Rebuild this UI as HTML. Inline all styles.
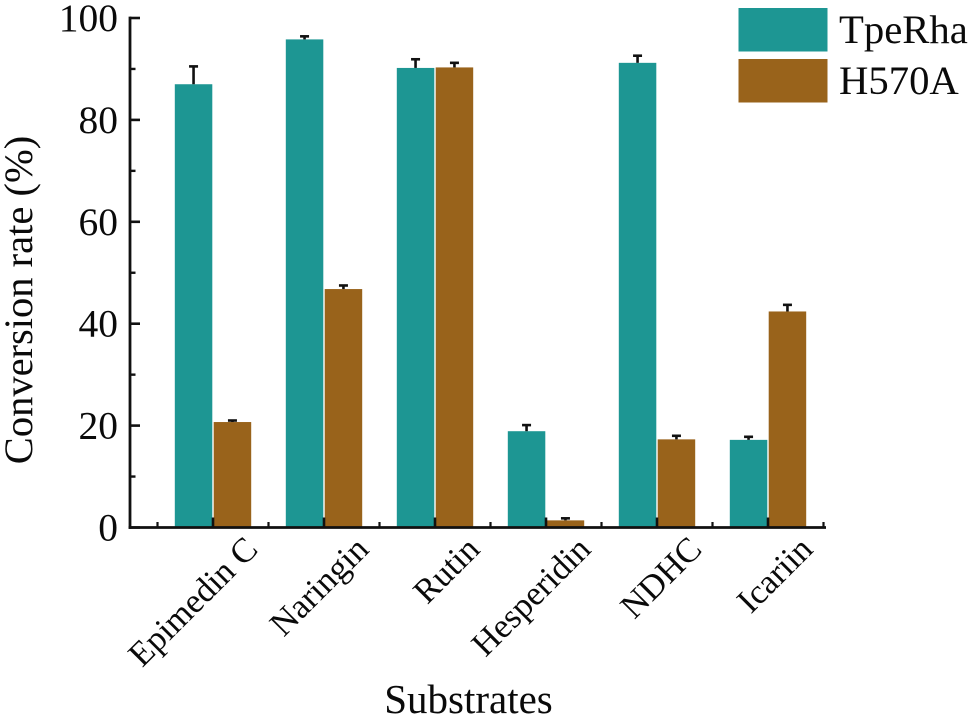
<!DOCTYPE html>
<html>
<head>
<meta charset="utf-8">
<title>Conversion rate by substrate</title>
<style>
html,body{margin:0;padding:0;background:#fff;}
svg{display:block;}
text{font-family:"Liberation Serif",serif;fill:#0a0a0a;}
</style>
</head>
<body>
<svg id="chart" width="972" height="718" viewBox="0 0 972 718" xmlns="http://www.w3.org/2000/svg"></svg>
<script>
const categories = ["Epimedin C", "Naringin", "Rutin", "Hesperidin", "NDHC", "Icariin"];
const tpeRhaValues = [87.0, 95.8, 90.2, 18.9, 91.2, 17.2];
const h570aValues = [20.7, 46.8, 90.3, 1.4, 17.3, 42.4];
const tpeRhaErrors = [3.5, 0.6, 1.7, 1.2, 1.4, 0.6];
const h570aErrors = [0.3, 0.7, 0.9, 0.4, 0.7, 1.3];
const yTickLabels = [0, 20, 40, 60, 80, 100];
const yMinorTicks = [10, 30, 50, 70, 90];

const svg = document.getElementById('chart');
const NS = 'http://www.w3.org/2000/svg';
const plotLeft = 130, plotRight = 825, y0 = 527.5, y100 = 18;
const firstCenter = 213, bandWidth = 111, barWidth = 37.5;
const teal = '#1d9693', brown = '#99631b';

function yScale(v){ return y0 - (v / 100) * (y0 - y100); }
function xCenter(i){ return firstCenter + bandWidth * i; }

function make(tag, attrs){
  const el = document.createElementNS(NS, tag);
  for (const k in attrs) el.setAttribute(k, attrs[k]);
  svg.appendChild(el);
  return el;
}

function drawBar(x, value, err, color, barName, errName){
  const top = yScale(value);
  const rect = make('rect', {x: x, y: top, width: barWidth, height: y0 - top, fill: color});
  
  
  const cx = x + barWidth / 2;
  const errTop = yScale(value + err);
  const stem = make('line', {x1: cx, x2: cx, y1: top, y2: errTop, stroke: '#111', 'stroke-width': 2.6});
  
  
  const cap = make('line', {x1: cx - 4.5, x2: cx + 4.5, y1: errTop, y2: errTop, stroke: '#111', 'stroke-width': 2.6});
  
  
}

categories.forEach(function(name, i){
  const slug = name.toLowerCase().replace(/\s+/g, '-');
  const c = xCenter(i);
  drawBar(c - barWidth - 0.7, tpeRhaValues[i], tpeRhaErrors[i], teal, 'bar-tperha-' + slug, 'error-tperha-' + slug);
  drawBar(c + 0.7, h570aValues[i], h570aErrors[i], brown, 'bar-h570a-' + slug, 'error-h570a-' + slug);
});

/* y axis */
const yAxis = make('line', {x1: plotLeft, x2: plotLeft, y1: y100 - 1.4, y2: y0 + 1.4, stroke: '#111', 'stroke-width': 2.8});



yTickLabels.forEach(function(v){
  const y = yScale(v);
  const tick = make('line', {x1: plotLeft, x2: plotLeft + 10, y1: y, y2: y, stroke: '#111', 'stroke-width': 2.6});
  
  
  const label = make('text', {x: 118, y: y + 13, 'text-anchor': 'end', 'font-size': 39.5});
  label.textContent = v;
  
  
});

yMinorTicks.forEach(function(v){
  const y = yScale(v);
  const tick = make('line', {x1: plotLeft, x2: plotLeft + 5.5, y1: y, y2: y, stroke: '#111', 'stroke-width': 2.4});
  
  
});

/* x axis */
const xAxis = make('line', {x1: plotLeft - 1.4, x2: plotRight + 1, y1: y0, y2: y0, stroke: '#111', 'stroke-width': 2.8});



categories.forEach(function(name, i){
  const c = xCenter(i);
  const tick = make('line', {x1: c, x2: c, y1: y0, y2: y0 - 10, stroke: '#111', 'stroke-width': 2.6});
  
  
  const minor = make('line', {x1: c - bandWidth / 2, x2: c - bandWidth / 2, y1: y0, y2: y0 - 5.5, stroke: '#111', 'stroke-width': 2.2});
  
  
  const lx = c + 46.5, ly = 551;
  const label = make('text', {x: lx, y: ly, 'text-anchor': 'end', 'font-size': 34.5, transform: 'rotate(-45 ' + lx + ' ' + ly + ')'});
  label.textContent = name;
  
  
});
const lastMinorX = xCenter(categories.length - 1) + bandWidth / 2;
const lastMinor = make('line', {x1: lastMinorX, x2: lastMinorX, y1: y0, y2: y0 - 5.5, stroke: '#111', 'stroke-width': 2.2});



/* titles */
const yTitle = make('text', {x: 32, y: 300, 'text-anchor': 'middle', 'font-size': 40.5, transform: 'rotate(-90 32 300)'});
yTitle.textContent = 'Conversion rate (%)';



const xTitle = make('text', {x: 468.5, y: 713, 'text-anchor': 'middle', 'font-size': 41});
xTitle.textContent = 'Substrates';



/* legend */
const legendSeries = ['TpeRha', 'H570A'];
const legendColors = [teal, brown];
legendSeries.forEach(function(name, i){
  const top = 8 + i * 51;
  const swatch = make('rect', {x: 738.5, y: top, width: 89, height: 43.5, fill: legendColors[i]});
  
  
  const label = make('text', {x: 839, y: top + 35, 'font-size': 40.7});
  label.textContent = name;
  
  
});
</script>
</body>
</html>
